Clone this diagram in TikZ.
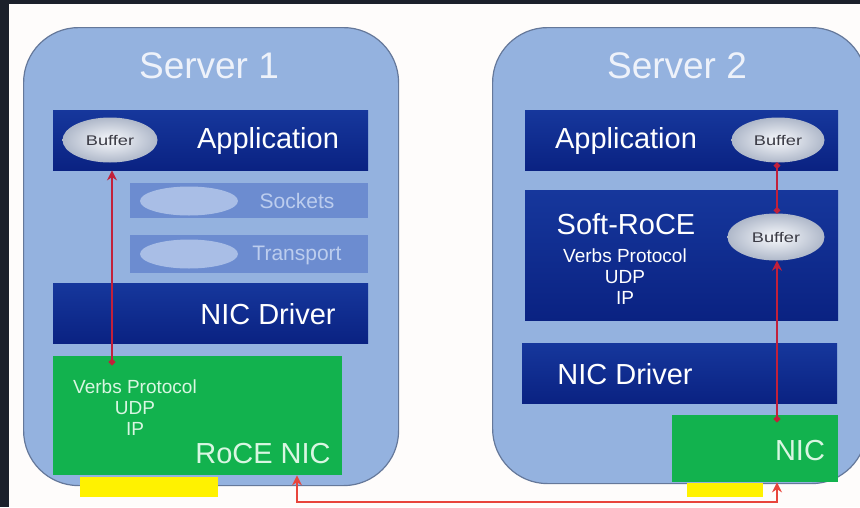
\documentclass[tikz,border=0pt]{standalone}
\usepackage{fontspec}
\setmainfont{Liberation Sans}
\usetikzlibrary{arrows.meta,shapes.geometric}
\definecolor{bgwhite}{HTML}{FEFCFB}
\definecolor{darkedge}{HTML}{1B202B}
\definecolor{srvfill}{HTML}{94B2DF}
\definecolor{srvline}{HTML}{65789A}
\definecolor{navytop}{HTML}{16379C}
\definecolor{navybot}{HTML}{0A2282}
\definecolor{fadebar}{HTML}{6C8CD0}
\definecolor{fadeell}{HTML}{A9BEE6}
\definecolor{fadetxt}{HTML}{BCCDEE}
\definecolor{nicgreen}{HTML}{12B24E}
\definecolor{greentxt}{HTML}{D9F6E2}
\definecolor{yellowbar}{HTML}{FFF200}
\definecolor{redin}{HTML}{C2203A}
\definecolor{redout}{HTML}{E8453C}
\definecolor{titletxt}{HTML}{EEF2FA}
\definecolor{buftxt}{HTML}{3A3A44}
\newcommand{\fs}[1]{\fontsize{#1}{#1}\selectfont}
\begin{document}
\begin{tikzpicture}[x=1pt,y=-1pt,
  server/.style={draw=srvline, line width=1.2pt, fill=srvfill, rounded corners=55pt, anchor=north west, inner sep=0pt},
  darkbar/.style={rectangle, top color=navytop, bottom color=navybot, draw=none, anchor=north west, inner sep=0pt},
  fadebox/.style={rectangle, fill=fadebar, draw=none, anchor=north west, inner sep=0pt},
  fadeoval/.style={ellipse, fill=fadeell, draw=none, inner sep=0pt},
  greenbox/.style={rectangle, fill=nicgreen, draw=none, anchor=north west, inner sep=0pt},
  yellowbox/.style={rectangle, fill=yellowbar, draw=none, anchor=north west, inner sep=0pt},
  buffer/.style={ellipse, inner color=white!92!fadeell, outer color=black!28!fadeell!60!white, draw=none, inner sep=0pt, text=buftxt, font=\fs{14}},
  bigtxt/.style={text=white, font=\fs{29}, inner sep=0pt},
  titletext/.style={text=titletxt, font=\fs{37}, inner sep=0pt},
  smalltxt/.style={text=white, font=\fs{19}, inner sep=0pt, align=center},
  fadetext/.style={text=fadetxt, font=\fs{21}, inner sep=0pt},
  greentext/.style={text=greentxt, inner sep=0pt},
  inarrow/.style={draw=redin, line width=2.5pt},
  outarrow/.style={draw=redout, line width=2.5pt},
  tipS/.tip={Stealth[length=10pt,width=10pt]},
  tipC/.tip={Circle[length=6pt]}
]
\useasboundingbox (0,0) rectangle (860,507);
\fill[bgwhite] (0,0) rectangle (860,507);
\fill[darkedge] (0,0) rectangle (860,4);
\fill[darkedge] (0,0) rectangle (9,507);

\begin{scope}
\clip (9,4) rectangle (860,507);
% Server 1
\node[server, minimum width=375, minimum height=458] (srv1) at (23,27) {};
\node[titletext] (t1) at (209,66) {Server 1};
\node[darkbar, minimum width=315, minimum height=60] (app1) at (53,110) {};
\node[buffer, minimum width=95, minimum height=45] (buf1) at (110,140) {\scalebox{1.3}[1]{Buffer}};
\node[bigtxt] (app1t) at (268,141) {Application};
\node[fadebox, minimum width=238, minimum height=35] (sock) at (130,183) {};
\node[fadeoval, minimum width=98, minimum height=29] (sockov) at (189,201) {};
\node[fadetext] (sockt) at (297,201) {Sockets};
\node[fadebox, minimum width=238, minimum height=38] (trans) at (130,235) {};
\node[fadeoval, minimum width=98, minimum height=29] (transov) at (189,254) {};
\node[fadetext] (transt) at (297,255) {Transport};
\node[darkbar, minimum width=315, minimum height=60] (drv1) at (53,283) {};
\node[bigtxt] (drv1t) at (268,314) {NIC Driver};
\node[greenbox, minimum width=289, minimum height=119] (roce) at (53,356) {};
\node[greentext, font=\fs{19}, align=center] (roceproto) at (135,408) {Verbs Protocol\\[2pt]UDP\\[2pt]IP};
\node[greentext, font=\fs{29}] (rocet) at (263,454) {RoCE NIC};
\node[yellowbox, minimum width=138, minimum height=20] (yel1) at (80,477) {};

% Server 2
\node[server, minimum width=374, minimum height=456] (srv2) at (492,27) {};
\node[titletext] (t2) at (677,66) {Server 2};
\node[darkbar, minimum width=313, minimum height=60] (app2) at (525,110) {};
\node[bigtxt] (app2t) at (626,141) {Application};
\node[buffer, minimum width=93, minimum height=45] (buf2a) at (778,140) {\scalebox{1.3}[1]{Buffer}};
\node[darkbar, minimum width=313, minimum height=130] (soft) at (525,190) {};
\node[bigtxt] (softt) at (626,224) {Soft-RoCE};
\node[smalltxt] (softproto) at (625,277) {Verbs Protocol\\[2pt]UDP\\[2pt]IP};
\node[buffer, minimum width=97, minimum height=47] (buf2b) at (776,237) {\scalebox{1.3}[1]{Buffer}};
\node[darkbar, minimum width=315, minimum height=60] (drv2) at (522,343) {};
\node[bigtxt] (drv2t) at (625,374) {NIC Driver};
\node[greenbox, minimum width=166, minimum height=67] (nic2) at (672,415) {};
\node[greentext, font=\fs{29}] (nic2t) at (800,451) {NIC};
\node[yellowbox, minimum width=76, minimum height=14] (yel2) at (687,483) {};
\end{scope}

% arrows
\coordinate (a1) at (112,365);
\draw[inarrow, tipC-tipS] (a1) -- (a1 |- app1.south);
\coordinate (a2) at (777,0);
\draw[inarrow, tipC-tipC] (a2 |- buf2a.south) -- (a2 |- buf2b.north);
\coordinate (a3) at (777,422);
\draw[inarrow, tipC-tipS] (a3) -- (a3 |- buf2b.south);
\coordinate (c1) at (297,502);
\coordinate (c2) at (777,502);
\draw[outarrow, tipS-tipS] (c1 |- roce.south) -- (c1) -- (c2) -- (c2 |- nic2.south);
\end{tikzpicture}
\end{document}
